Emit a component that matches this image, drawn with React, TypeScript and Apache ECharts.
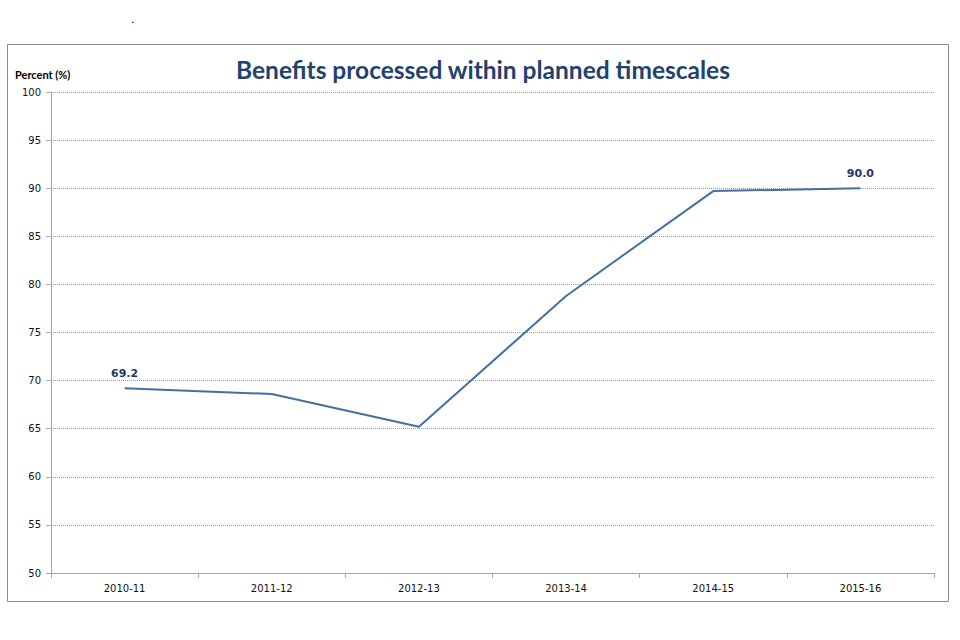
import React, { useEffect, useRef } from "react";
import * as echarts from "echarts";

const categories = ["2010-11", "2011-12", "2012-13", "2013-14", "2014-15", "2015-16"];
const values = [69.2, 68.6, 65.2, 78.8, 89.7, 90.0];
const labelledIndexes = [0, 5];
const titleText = "Benefits processed within planned timescales";
const yAxisName = "Percent (%)";

export default function App() {
  const ref = useRef<HTMLDivElement>(null);
  useEffect(() => {
    if (!ref.current) return;
    const chart = echarts.init(ref.current, null, { renderer: "svg" });
    chart.setOption({
      animation: false,
      backgroundColor: "#ffffff",
      title: {
        text: titleText,
        left: 478,
        top: 52,
        textAlign: "center",
        textStyle: { fontFamily: "Lato", fontWeight: "bold", fontSize: 24.5, color: "#1F4270" },
      },
      graphic: [
        {
          type: "rect",
          shape: { x: 7.5, y: 44.5, width: 941, height: 557 },
          style: { fill: "none", stroke: "#8c8c8c", lineWidth: 1 },
          silent: true,
        },
        {
          type: "text",
          x: 131,
          y: 14,
          style: { text: ".", fontSize: 11, fill: "#000", fontFamily: "DejaVu Sans" },
        },
      ],
      grid: { left: 51, right: 26, top: 92, bottom: 67, containLabel: false },
      xAxis: {
        type: "category",
        data: categories,
        boundaryGap: true,
        axisLine: { lineStyle: { color: "#a6a6a6", width: 1 } },
        axisTick: { show: true, alignWithLabel: false, length: 5, lineStyle: { color: "#a6a6a6" } },
        axisLabel: { fontFamily: "DejaVu Sans", fontSize: 10, color: "#111", margin: 10 },
        splitLine: { show: false },
      },
      yAxis: {
        type: "value",
        min: 50,
        max: 100,
        interval: 5,
        name: yAxisName,
        nameLocation: "end",
        nameGap: 12,
        nameTextStyle: {
          fontFamily: "Lato",
          fontWeight: "bold",
          fontSize: 11,
          color: "#000",
          align: "left",
          padding: [0, 0, 0, -36],
        },
        axisLine: { show: true, lineStyle: { color: "#a6a6a6", width: 1 } },
        axisTick: { show: true, length: 5, lineStyle: { color: "#a6a6a6" } },
        axisLabel: { fontFamily: "DejaVu Sans", fontSize: 10, color: "#111", margin: 10 },
        splitLine: { show: true, lineStyle: { color: "#9a9a9a", type: [1, 1], width: 1 } },
      },
      series: [
        {
          type: "line",
          data: values.map((v, i) => ({
            value: v,
            label: {
              show: labelledIndexes.includes(i),
              position: "top",
              distance: 9,
              formatter: (p: any) => Number(p.value).toFixed(1),
              fontFamily: "DejaVu Sans",
              fontWeight: "bold",
              fontSize: 11,
              color: "#1F3864",
            },
          })),
          symbol: "circle",
          symbolSize: 1,
          showSymbol: true,
          itemStyle: { color: "rgba(0,0,0,0)" },
          lineStyle: { color: "#4470A0", width: 2 },
        },
      ],
    });
    return () => chart.dispose();
  }, []);
  return (
    <div
      ref={ref}
      style={{ position: "fixed", left: 0, top: 0, width: 960, height: 640 }}
    />
  );
}
